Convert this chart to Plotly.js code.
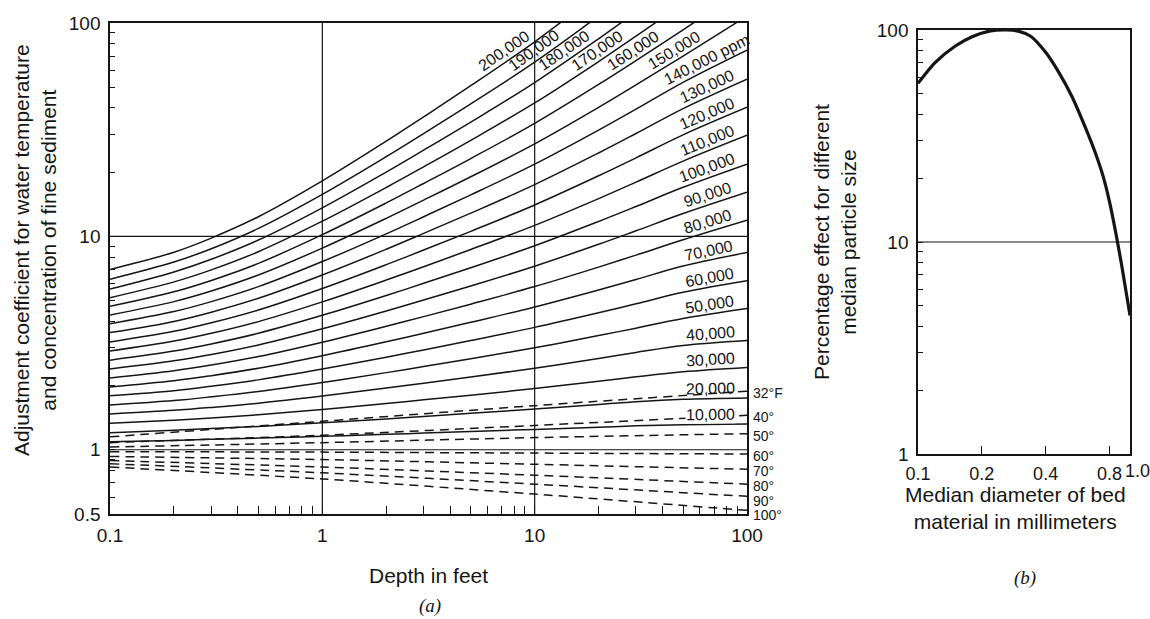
<!DOCTYPE html>
<html><head><meta charset="utf-8">
<script src="https://cdn.plot.ly/plotly-3.0.1.min.js"></script>
<style>html,body{margin:0;padding:0;background:#fff}#chart{width:1150px;height:619px}</style>
</head><body><div id="chart"></div>
<script>
// ---------- Panel (a): depth (ft) vs adjustment coefficient ----------
const depthFt = [0.1, 0.2, 0.3, 0.5, 1, 2, 3, 5, 10, 20, 30, 50, 100];
const ppm10000  = [1.09, 1.105, 1.12, 1.134, 1.156, 1.181, 1.197, 1.217, 1.246, 1.275, 1.295, 1.31, 1.32];
const ppm20000  = [1.20, 1.235, 1.257, 1.286, 1.337, 1.395, 1.432, 1.481, 1.553, 1.63, 1.68, 1.725, 1.75];
const ppm30000  = [1.33, 1.375, 1.409, 1.458, 1.545, 1.648, 1.714, 1.803, 1.936, 2.094, 2.198, 2.32, 2.43];
const ppm40000  = [1.47, 1.53, 1.579, 1.653, 1.786, 1.946, 2.051, 2.194, 2.412, 2.679, 2.858, 3.08, 3.25];
const ppm50000  = [1.62, 1.70, 1.770, 1.875, 2.065, 2.299, 2.455, 2.670, 3.006, 3.428, 3.715, 4.121, 4.59];
const ppm60000  = [1.79, 1.89, 1.984, 2.126, 2.388, 2.716, 2.938, 3.249, 3.746, 4.385, 4.831, 5.47, 6.2];
const ppm70000  = [1.97, 2.105, 2.224, 2.411, 2.761, 3.207, 3.516, 3.955, 4.669, 5.61, 6.281, 7.261, 8.4];
const ppm80000  = [2.17, 2.345, 2.494, 2.734, 3.192, 3.788, 4.207, 4.813, 5.818, 7.178, 8.166, 9.638, 11.9];
const ppm90000  = [2.39, 2.61, 2.795, 3.10, 3.69, 4.474, 5.035, 5.857, 7.251, 9.183, 10.62, 12.79, 16.1];
const ppm100000 = [2.63, 2.90, 3.133, 3.516, 4.266, 5.284, 6.026, 7.129, 9.036, 11.75, 13.80, 16.98, 21.8];
const ppm110000 = [2.90, 3.23, 3.512, 3.987, 4.932, 6.242, 7.211, 8.676, 11.26, 15.03, 17.95, 22.54, 29.8];
const ppm120000 = [3.20, 3.59, 3.937, 4.521, 5.702, 7.372, 8.63, 10.56, 14.04, 19.23, 23.33, 29.92, 40.3];
const ppm130000 = [3.54, 3.995, 4.413, 5.127, 6.592, 8.707, 10.33, 12.85, 17.49, 24.6, 30.34, 39.72, 54.6];
const ppm140000 = [3.90, 4.445, 4.947, 5.813, 7.621, 10.28, 12.36, 15.64, 21.8, 31.48, 39.45, 52.72, 74.6];
const ppm150000 = [4.28, 4.945, 5.546, 6.592, 8.81, 12.15, 14.79, 19.03, 27.16, 40.27, 51.29, 69.98, 107.8];
const ppm160000 = [4.70, 5.50, 6.217, 7.475, 10.19, 14.35, 17.70, 23.16, 33.85, 51.52, 66.68, 92.9, 147.2];
const ppm170000 = [5.16, 6.12, 6.969, 8.477, 11.78, 16.95, 21.18, 28.19, 42.19, 65.92, 86.7, 123.3, 201.1];
const ppm180000 = [5.66, 6.81, 7.812, 9.612, 13.61, 20.02, 25.35, 34.31, 52.57, 84.33, 112.7, 163.7, 274.8];
const ppm190000 = [6.30, 7.58, 8.757, 10.90, 15.74, 23.64, 30.34, 41.76, 65.52, 107.9, 146.6, 217.3, 375.4];
const ppm200000 = [7.00, 8.43, 9.817, 12.36, 18.20, 27.93, 36.31, 50.82, 81.66, 138.0, 190.5, 288.4, 512.9];
const concNames = ['10,000','20,000','30,000','40,000','50,000','60,000','70,000','80,000','90,000','100,000',
  '110,000','120,000','130,000','140,000 ppm','150,000','160,000','170,000','180,000','190,000','200,000'];
const concSeries = [ppm10000, ppm20000, ppm30000, ppm40000, ppm50000, ppm60000, ppm70000, ppm80000, ppm90000, ppm100000,
  ppm110000, ppm120000, ppm130000, ppm140000, ppm150000, ppm160000, ppm170000, ppm180000, ppm190000, ppm200000];

const tempDepth = [0.1, 1, 10, 100];
const temp32  = [1.15, 1.36, 1.61, 1.88];
const temp40  = [1.08, 1.17, 1.30, 1.45];
const temp50  = [1.03, 1.08, 1.14, 1.19];
const temp60  = [0.98, 0.975, 0.965, 0.955];
const temp70  = [0.93, 0.90, 0.855, 0.81];
const temp80  = [0.89, 0.83, 0.76, 0.69];
const temp90  = [0.86, 0.78, 0.69, 0.605];
const temp100 = [0.83, 0.73, 0.62, 0.52];
const tempNames = ['32°F','40°','50°','60°','70°','80°','90°','100°'];
const tempSeries = [temp32, temp40, temp50, temp60, temp70, temp80, temp90, temp100];

const gridDepth = [1, 10];
const gridCoef = [1, 10];
const depthTicks = [0.1, 1, 10, 100];
const coefTicks = [0.5, 1, 10, 100];

// ---------- Panel (b): median diameter vs percentage effect ----------
const diameterMm = [0.1, 0.12, 0.15, 0.18, 0.22, 0.26, 0.3, 0.34, 0.4, 0.46, 0.53, 0.61, 0.684, 0.746, 0.805, 0.859, 0.917, 1.0];
const effectPct  = [56, 70, 84, 93, 99, 100, 98.5, 93.5, 78.5, 63.5, 49, 35.5, 26.6, 20.5, 15.1, 10.9, 7.6, 4.5];
const diamTicks = [0.1, 0.2, 0.4, 0.8];
const diamTickText = ['0.1', '0.2', '0.4', '0.8'];
const diamEndLabel = '1.0';
const effectTicks = [1, 10, 100];
const effectGrid = [10];

// ---------- helpers ----------
const L = Math.log10;
function minorVals(lo, hi) {
  const v = [];
  for (let e = Math.floor(L(lo)); e < Math.ceil(L(hi)); e++) {
    for (let m = 1; m <= 9; m++) { const t = m * Math.pow(10, e); if (t >= lo - 1e-9 && t <= hi + 1e-9) v.push(+t.toPrecision(3)); }
  }
  if (!v.includes(hi)) v.push(hi);
  return v;
}
function tickSet(lo, hi, majors) {
  const vals = minorVals(lo, hi);
  const text = vals.map(v => { const i = majors.findIndex(m => Math.abs(m - v) < 1e-9); return i >= 0 ? String(majors[i]) : ''; });
  return {vals, text};
}
function interpLog(xs, ys, x) {
  const u = L(x);
  for (let i = 0; i < xs.length - 1; i++) {
    const a = L(xs[i]), b = L(xs[i + 1]);
    if (u >= a && u <= b) { const f = (u - a) / (b - a); return Math.pow(10, L(ys[i]) + f * (L(ys[i + 1]) - L(ys[i]))); }
  }
  return ys[ys.length - 1];
}
function slopeLog(xs, ys, x) {
  const u = L(x);
  for (let i = 0; i < xs.length - 1; i++) {
    const a = L(xs[i]), b = L(xs[i + 1]);
    if (u >= a && u <= b) return (L(ys[i + 1]) - L(ys[i])) / (b - a);
  }
  return 0;
}
function crossAt(xs, ys, target) {
  const t = L(target);
  for (let i = 0; i < xs.length - 1; i++) {
    const a = L(ys[i]), b = L(ys[i + 1]);
    if (t >= a && t <= b) { const f = (t - a) / (b - a); return Math.pow(10, L(xs[i]) + f * (L(xs[i + 1]) - L(xs[i]))); }
  }
  return xs[xs.length - 1];
}

// geometry (paper fractions)
const W = 1150, H = 619;
const aX = [110 / W, 747 / W], aY = [1 - 514 / H, 1 - 23 / H];
const bX = [918 / W, 1130 / W], bY = [1 - 454 / H, 1 - 30 / H];
const pxPerDecX = (aX[1] - aX[0]) * W / 3;
const pxPerDecY = (aY[1] - aY[0]) * H / (2 - L(0.5));

const ink = '#151515';
const sans = 'Liberation Sans, Arial, sans-serif';
const traces = [];
concSeries.forEach((ys, i) => traces.push({
  x: depthFt, y: ys, xaxis: 'x', yaxis: 'y', mode: 'lines', name: concNames[i],
  line: {color: ink, width: 1.5, shape: 'spline', smoothing: 1}, hoverinfo: 'skip', showlegend: false
}));
tempSeries.forEach((ys, i) => traces.push({
  x: tempDepth, y: ys, xaxis: 'x', yaxis: 'y', mode: 'lines', name: tempNames[i],
  line: {color: ink, width: 1.5, dash: '9px,6px', shape: 'spline', smoothing: 0.6}, hoverinfo: 'skip', showlegend: false
}));
gridDepth.forEach(g => traces.push({x: [g, g], y: [0.5, 100], xaxis: 'x', yaxis: 'y', mode: 'lines',
  line: {color: ink, width: 1.2}, hoverinfo: 'skip', showlegend: false}));
gridCoef.forEach(g => traces.push({x: [0.1, 100], y: [g, g], xaxis: 'x', yaxis: 'y', mode: 'lines',
  line: {color: ink, width: 1.2}, hoverinfo: 'skip', showlegend: false}));
traces.push({x: diameterMm, y: effectPct, xaxis: 'x2', yaxis: 'y2', mode: 'lines',
  line: {color: ink, width: 3.2, shape: 'spline', smoothing: 0.7}, hoverinfo: 'skip', showlegend: false});
effectGrid.forEach(g => traces.push({x: [0.1, 1], y: [g, g], xaxis: 'x2', yaxis: 'y2', mode: 'lines',
  line: {color: ink, width: 1.2}, hoverinfo: 'skip', showlegend: false}));

// ---------- curve labels ----------
const annotations = [];
const lblFont = {family: sans, size: 16, color: ink};
concSeries.forEach((ys, i) => {
  let xc, yc;
  if (ys[ys.length - 1] > 100) { yc = 68; xc = crossAt(depthFt, ys, yc); }
  else { xc = Math.pow(10, 1.83); yc = interpLog(depthFt, ys, xc); }
  const th = Math.atan(slopeLog(depthFt, ys, xc) * pxPerDecY / pxPerDecX);
  const d = 10;
  annotations.push({x: L(xc), y: L(yc), xref: 'x', yref: 'y', text: concNames[i], showarrow: false,
    xanchor: 'center', yanchor: 'middle',
    textangle: -th * 180 / Math.PI, xshift: -Math.sin(th) * d, yshift: Math.cos(th) * d,
    font: lblFont, bgcolor: i === 0 ? '#ffffff' : 'rgba(0,0,0,0)', borderpad: 0});
});
// temperature labels right of the frame, kept at least 14.5 px apart
const tempFont = {family: sans, size: 14, color: ink};
let prevPx = -1e9;
tempSeries.forEach((ys, i) => {
  const v = ys[ys.length - 1];
  const px = 23 + (2 - L(v)) * pxPerDecY + 2;
  const target = Math.max(px, prevPx + 14.5);
  prevPx = target;
  annotations.push({x: L(tempDepth[tempDepth.length - 1]), y: L(v), xref: 'x', yref: 'y',
    text: tempNames[i], showarrow: false, xanchor: 'left', yanchor: 'middle', xshift: 4,
    yshift: -(target - px + 2), font: tempFont});
});
// end label of panel (b) x axis, nudged right as in the original
annotations.push({x: L(1.0), y: 0, xref: 'x2', yref: 'y2', text: diamEndLabel, showarrow: false,
  xanchor: 'center', yanchor: 'top', xshift: 7, yshift: -5, font: {family: sans, size: 18, color: ink}});

const tFont = {family: sans, size: 21, color: ink};
const pa = (x, y, text, extra) => Object.assign({x: x / W, y: 1 - y / H, xref: 'paper', yref: 'paper', text: text,
  showarrow: false, xanchor: 'center', yanchor: 'middle', font: tFont}, extra || {});
const italic = {font: {family: 'Liberation Serif, serif', size: 19, color: ink, style: 'italic'}};
annotations.push(
  pa(428, 575, 'Depth in feet'),
  pa(430, 606, '(a)', italic),
  pa(35, 250, 'Adjustment coefficient for water temperature<br>and concentration of fine sediment', {textangle: -90}),
  pa(835, 242, 'Percentage effect for different<br>median particle size', {textangle: -90}),
  pa(1015, 508, 'Median diameter of bed<br>material in millimeters'),
  pa(1025, 578, '(b)', italic)
);

const xa = tickSet(0.1, 100, depthTicks);
const ya = tickSet(0.5, 100, coefTicks);
const yb = tickSet(1, 100, effectTicks);
const axBase = {type: 'log', showline: true, linecolor: ink, linewidth: 1.7, mirror: true, showgrid: false, zeroline: false,
  ticks: 'inside', tickcolor: ink, tickwidth: 1, tickmode: 'array', tickangle: 0,
  tickfont: {family: sans, size: 19, color: ink}};

const layout = {
  width: W, height: H, margin: {l: 0, r: 0, t: 0, b: 0}, paper_bgcolor: '#fff', plot_bgcolor: '#fff', showlegend: false,
  xaxis: Object.assign({}, axBase, {domain: aX, range: [-1, 2], anchor: 'y', tickvals: xa.vals, ticktext: xa.text, ticklen: 8, ticklabelstandoff: 3}),
  yaxis: Object.assign({}, axBase, {domain: aY, range: [L(0.5), 2], anchor: 'x', tickvals: ya.vals, ticktext: ya.text, ticklen: 5, ticklabelstandoff: 4}),
  xaxis2: Object.assign({}, axBase, {domain: bX, range: [-1, 0], anchor: 'y2', tickvals: diamTicks, ticktext: diamTickText, ticklen: 8, ticklabelstandoff: 3,
    tickfont: {family: sans, size: 18, color: ink}}),
  yaxis2: Object.assign({}, axBase, {domain: bY, range: [0, 2], anchor: 'x2', tickvals: yb.vals, ticktext: yb.text, ticklen: 5, ticklabelstandoff: 4}),
  annotations: annotations
};
Plotly.newPlot('chart', traces, layout, {staticPlot: true, displayModeBar: false});
</script></body></html>
